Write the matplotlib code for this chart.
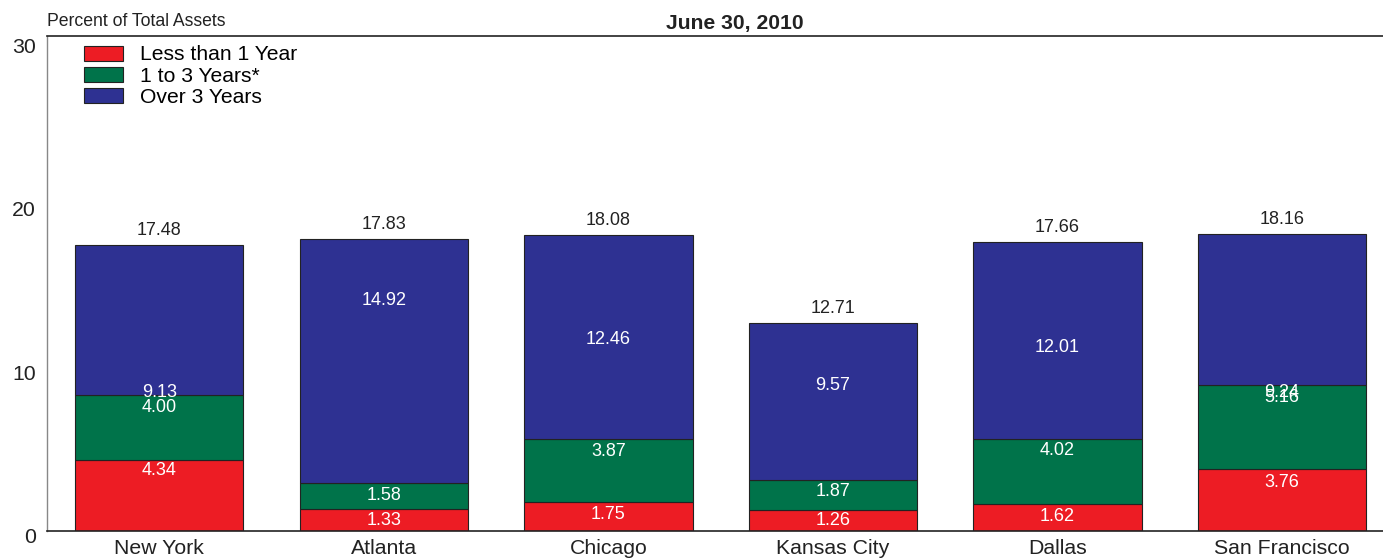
import matplotlib
matplotlib.use("Agg")
import matplotlib.pyplot as plt
import matplotlib.transforms as mtransforms
import numpy as np

plt.rcParams['font.family'] = ['Liberation Sans', 'DejaVu Sans']

districts = ["New York", "Atlanta", "Chicago", "Kansas City", "Dallas", "San Francisco"]
less_1yr = [4.34, 1.33, 1.75, 1.26, 1.62, 3.76]
yrs_1_3 = [4.00, 1.58, 3.87, 1.87, 4.02, 5.16]
over_3yr = [9.13, 14.92, 12.46, 9.57, 12.01, 9.24]
totals = [17.48, 17.83, 18.08, 12.71, 17.66, 18.16]
series_names = ["Less than 1 Year", "1 to 3 Years*", "Over 3 Years"]

# where the source chart put its segment labels (data units)
label_y_less = [3.71, 0.65, 1.02, 0.65, 0.90, 2.97]
label_y_mid = [7.57, 2.18, 4.87, 2.43, 4.93, 8.18]
label_y_over = [8.49, 14.11, 11.73, 8.91, 11.24, 8.49]

colors = ["#ED1C24", "#00734A", "#2E3192"]

fig = plt.figure(figsize=(13.83, 5.58), dpi=100)
ax = fig.add_axes([0.034, 0.0484, 0.966, 0.887])

x = np.arange(len(districts))
width = 0.75
bottom = np.zeros(len(districts))
series = [less_1yr, yrs_1_3, over_3yr]
for vals, name, col in zip(series, series_names, colors):
    ax.bar(x, vals, width, bottom=bottom, color=col, edgecolor="#222222",
           linewidth=0.8, label=name)
    bottom = bottom + np.array(vals)

for vals, ys in zip(series, [label_y_less, label_y_mid, label_y_over]):
    for xi, v, yv in zip(x, vals, ys):
        ax.text(xi, yv, "{:.2f}".format(v), ha="center", va="center",
                color="white", fontsize=13)

for xi, t in zip(x, totals):
    ax.text(xi, t + 0.9, "{:.2f}".format(t), ha="center", va="center",
            color="#222222", fontsize=13)

ax.set_xlim(-0.5, 5.45)
ax.set_ylim(0, 30.26)
ax.set_yticks([0, 10, 20, 30])
ax.set_xticks(x)
ax.set_xticklabels(districts)
ax.tick_params(axis="both", length=0, labelsize=15.3, colors="#222222")
ax.tick_params(axis="y", pad=8)
ax.tick_params(axis="x", pad=5.5)
offset = mtransforms.ScaledTranslation(0, -0.05, fig.dpi_scale_trans)
for lab in ax.get_yticklabels():
    lab.set_transform(lab.get_transform() + offset)

ax.spines["right"].set_visible(False)
ax.spines["left"].set_color("#888888")
ax.spines["left"].set_linewidth(1.0)
ax.spines["top"].set_color("#222222")
ax.spines["bottom"].set_color("#222222")
ax.spines["top"].set_linewidth(1.2)
ax.spines["bottom"].set_linewidth(1.2)

leg = ax.legend(loc="upper left", bbox_to_anchor=(0.0212, 0.998), frameon=False,
                fontsize=15.2, handlelength=1.87, handleheight=0.72,
                labelspacing=0.1, handletextpad=0.8, borderaxespad=0.0)
for h in leg.legend_handles:
    h.set_edgecolor("#222222")

fig.text(47 / 1383, 1 - 21 / 558, "Percent of Total Assets", ha="left",
         va="center", fontsize=12.7, color="#222222")
fig.text(735 / 1383, 1 - 23 / 558, "June 30, 2010", ha="center",
         va="center", fontsize=15.2, fontweight="bold", color="#222222")

fig.savefig("out.png", dpi=100)
